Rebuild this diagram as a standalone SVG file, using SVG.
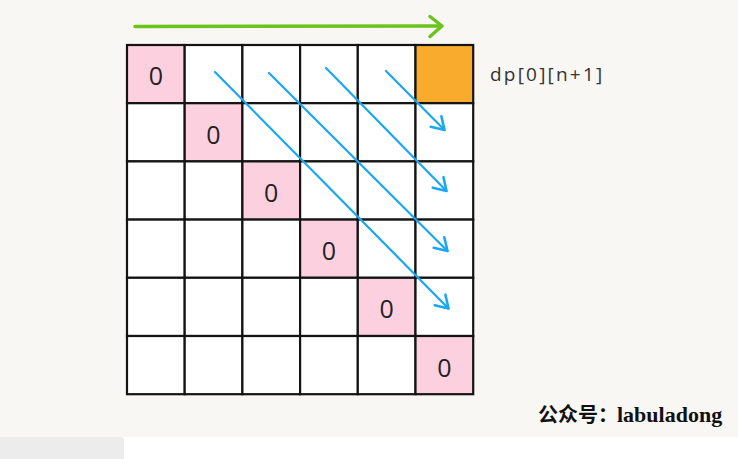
<svg xmlns="http://www.w3.org/2000/svg" width="738" height="459" viewBox="0 0 738 459">
<style>
.cell{fill:#ffffff;stroke:#141414;stroke-width:2.2}
.pink{fill:#fdd0e0}
.orange{fill:#f9ab2e}
.zero{font-family:"Open Sans","DejaVu Sans",sans-serif;font-size:25px;fill:#222;text-anchor:middle}
.blue{stroke:#1aa7f2;stroke-width:2.2;fill:none;stroke-linecap:round}
.dp{font-family:"Open Sans","DejaVu Sans",sans-serif;font-size:19px;fill:#333;letter-spacing:2.2px}
.wm{font-family:"Liberation Serif","Noto Sans CJK SC",serif;font-size:20px;font-weight:bold;fill:#111}
</style>
<defs>
<marker id="bhead" markerUnits="userSpaceOnUse" markerWidth="30" markerHeight="30" refX="0" refY="0" viewBox="-15 -15 30 30" orient="auto" overflow="visible">
<path d="M-12,-7.5 L0,0 L-12,7.5" fill="none" stroke="#1aa7f2" stroke-width="2.6" stroke-linecap="round" stroke-linejoin="round"/>
</marker>
</defs>
<rect x="0" y="0" width="738" height="437" fill="#f8f7f4"/>
<rect x="0" y="437" width="738" height="22" fill="#ffffff"/>
<path d="M0,437 H120 Q124,437 124,441 V459 H0 Z" fill="#ececec"/>
<g id="grid">
<g id="row0">
<rect class="cell pink" x="127" y="45" width="57.7" height="58.2"/>
<rect class="cell" x="184.7" y="45" width="57.7" height="58.2"/>
<rect class="cell" x="242.4" y="45" width="57.7" height="58.2"/>
<rect class="cell" x="300.1" y="45" width="57.7" height="58.2"/>
<rect class="cell" x="357.8" y="45" width="57.7" height="58.2"/>
<rect class="cell orange" x="415.5" y="45" width="57.7" height="58.2"/>
</g>
<g id="row1">
<rect class="cell" x="127" y="103.2" width="57.7" height="58.2"/>
<rect class="cell pink" x="184.7" y="103.2" width="57.7" height="58.2"/>
<rect class="cell" x="242.4" y="103.2" width="57.7" height="58.2"/>
<rect class="cell" x="300.1" y="103.2" width="57.7" height="58.2"/>
<rect class="cell" x="357.8" y="103.2" width="57.7" height="58.2"/>
<rect class="cell" x="415.5" y="103.2" width="57.7" height="58.2"/>
</g>
<g id="row2">
<rect class="cell" x="127" y="161.4" width="57.7" height="58.2"/>
<rect class="cell" x="184.7" y="161.4" width="57.7" height="58.2"/>
<rect class="cell pink" x="242.4" y="161.4" width="57.7" height="58.2"/>
<rect class="cell" x="300.1" y="161.4" width="57.7" height="58.2"/>
<rect class="cell" x="357.8" y="161.4" width="57.7" height="58.2"/>
<rect class="cell" x="415.5" y="161.4" width="57.7" height="58.2"/>
</g>
<g id="row3">
<rect class="cell" x="127" y="219.6" width="57.7" height="58.2"/>
<rect class="cell" x="184.7" y="219.6" width="57.7" height="58.2"/>
<rect class="cell" x="242.4" y="219.6" width="57.7" height="58.2"/>
<rect class="cell pink" x="300.1" y="219.6" width="57.7" height="58.2"/>
<rect class="cell" x="357.8" y="219.6" width="57.7" height="58.2"/>
<rect class="cell" x="415.5" y="219.6" width="57.7" height="58.2"/>
</g>
<g id="row4">
<rect class="cell" x="127" y="277.8" width="57.7" height="58.2"/>
<rect class="cell" x="184.7" y="277.8" width="57.7" height="58.2"/>
<rect class="cell" x="242.4" y="277.8" width="57.7" height="58.2"/>
<rect class="cell" x="300.1" y="277.8" width="57.7" height="58.2"/>
<rect class="cell pink" x="357.8" y="277.8" width="57.7" height="58.2"/>
<rect class="cell" x="415.5" y="277.8" width="57.7" height="58.2"/>
</g>
<g id="row5">
<rect class="cell" x="127" y="336" width="57.7" height="58.2"/>
<rect class="cell" x="184.7" y="336" width="57.7" height="58.2"/>
<rect class="cell" x="242.4" y="336" width="57.7" height="58.2"/>
<rect class="cell" x="300.1" y="336" width="57.7" height="58.2"/>
<rect class="cell" x="357.8" y="336" width="57.7" height="58.2"/>
<rect class="cell pink" x="415.5" y="336" width="57.7" height="58.2"/>
</g>
</g>
<g id="zeros">
<text class="zero" x="155.8" y="85">0</text>
<text class="zero" x="213.5" y="143.5">0</text>
<text class="zero" x="271.2" y="201.5">0</text>
<text class="zero" x="329" y="260">0</text>
<text class="zero" x="386.7" y="318">0</text>
<text class="zero" x="444.4" y="376.5">0</text>
</g>
<g id="label-dp">
<text class="dp" x="490" y="80.5">dp[0][n+1]</text>
</g>
<g id="connectors">
<path d="M135,26.5 L441,26" fill="none" stroke="#6bc41c" stroke-width="3.5" stroke-linecap="round"/>
<path d="M430,16.5 L442,26 L430,36.5" fill="none" stroke="#6bc41c" stroke-width="3.5" stroke-linecap="round" stroke-linejoin="round"/>
<path class="blue" d="M386,71 L444.5,130" marker-end="url(#bhead)"/>
<path class="blue" d="M326,68 L446.5,191" marker-end="url(#bhead)"/>
<path class="blue" d="M269,73 L447.5,251" marker-end="url(#bhead)"/>
<path class="blue" d="M215,72 L448.5,308.5" marker-end="url(#bhead)"/>
</g>
<g id="watermark">
<text class="wm" x="538" y="422">公众号：<tspan x="617" font-size="22">labuladong</tspan></text>
</g>
</svg>
